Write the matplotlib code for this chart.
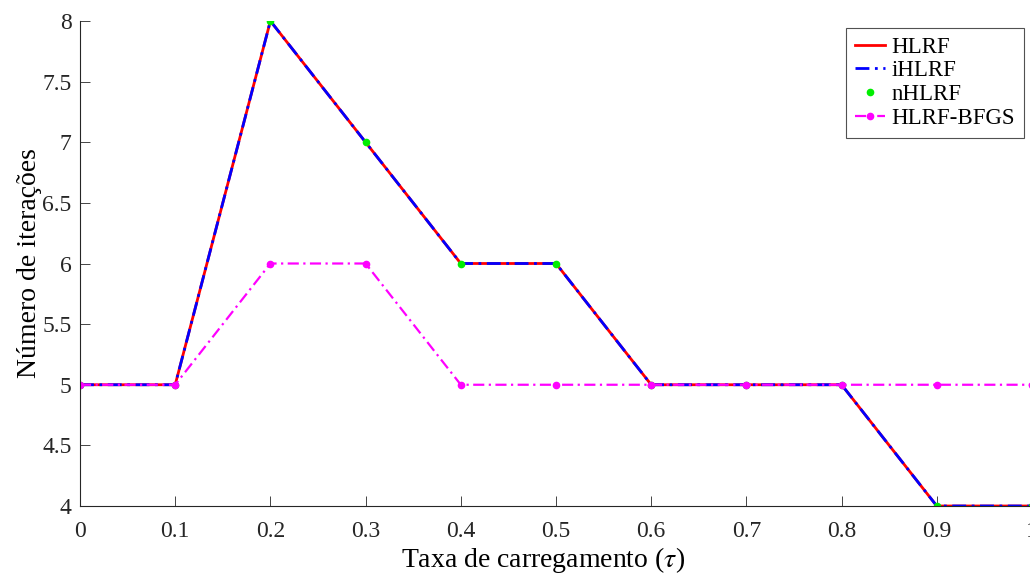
import matplotlib.pyplot as plt
import numpy as np

# loading rate and iteration counts
tau = [0.0, 0.1, 0.2, 0.3, 0.4, 0.5, 0.6, 0.7, 0.8, 0.9, 1.0]
hlrf = [5, 5, 8, 7, 6, 6, 5, 5, 5, 4, 4]
ihlrf = [5, 5, 8, 7, 6, 6, 5, 5, 5, 4, 4]
nhlrf = [5, 5, 8, 7, 6, 6, 5, 5, 5, 4, 4]
bfgs = [5, 5, 6, 6, 5, 5, 5, 5, 5, 5, 5]

xticks = [0, 0.1, 0.2, 0.3, 0.4, 0.5, 0.6, 0.7, 0.8, 0.9, 1]
xticklabels = ["0", "0.1", "0.2", "0.3", "0.4", "0.5", "0.6", "0.7", "0.8", "0.9", "1"]
yticks = [4, 4.5, 5, 5.5, 6, 6.5, 7, 7.5, 8]
yticklabels = ["4", "4.5", "5", "5.5", "6", "6.5", "7", "7.5", "8"]

plt.rcParams["font.family"] = ["Liberation Serif", "DejaVu Serif"]
plt.rcParams["mathtext.fontset"] = "stix"

fig = plt.figure(figsize=(10.3, 5.74), dpi=100)
ax = fig.add_axes([80 / 1030, 68 / 574, 952 / 1030, 485 / 574])

dashdot = (0, (5, 2, 1, 2))
ax.plot(tau, hlrf, color="red", linestyle="-", linewidth=2, label="HLRF")
ax.plot(tau, ihlrf, color="blue", linestyle=dashdot, linewidth=2, label="iHLRF")
ax.plot(tau, nhlrf, color="#00ee00", linestyle="none", marker="o", markersize=4.5, label="nHLRF")
ax.plot(tau, bfgs, color="magenta", linestyle=dashdot, linewidth=1.6,
        marker="o", markersize=4.5, label="HLRF-BFGS")

ax.set_xlim(0, 1)
ax.set_ylim(4, 8)
ax.set_xticks(xticks)
ax.set_xticklabels(xticklabels)
ax.set_yticks(yticks)
ax.set_yticklabels(yticklabels)
ax.tick_params(direction="in", labelsize=17, length=7, width=0.6, colors="#262626")
ax.tick_params(axis="x", pad=11)
ax.tick_params(axis="y", pad=6)
ax.spines["top"].set_visible(False)
ax.spines["right"].set_visible(False)
for s in ["left", "bottom"]:
    ax.spines[s].set_color("#262626")
    ax.spines[s].set_linewidth(0.8)

ax.set_xlabel(r"Taxa de carregamento ($\tau$)", fontsize=20)
ax.xaxis.label.set_va("baseline")
ax.xaxis.set_label_coords(0.486, -0.125)
ax.set_ylabel("Número de iterações", fontsize=20, labelpad=0)

leg = ax.legend(loc="upper right", bbox_to_anchor=(0.9916, 0.986), fontsize=16.5,
                frameon=True, fancybox=False, edgecolor="#262626",
                handlelength=1.3, handletextpad=0.3, labelspacing=0.12,
                borderpad=0.38, borderaxespad=0)
leg.get_frame().set_linewidth(0.8)

plt.savefig("out.png", dpi=100)
